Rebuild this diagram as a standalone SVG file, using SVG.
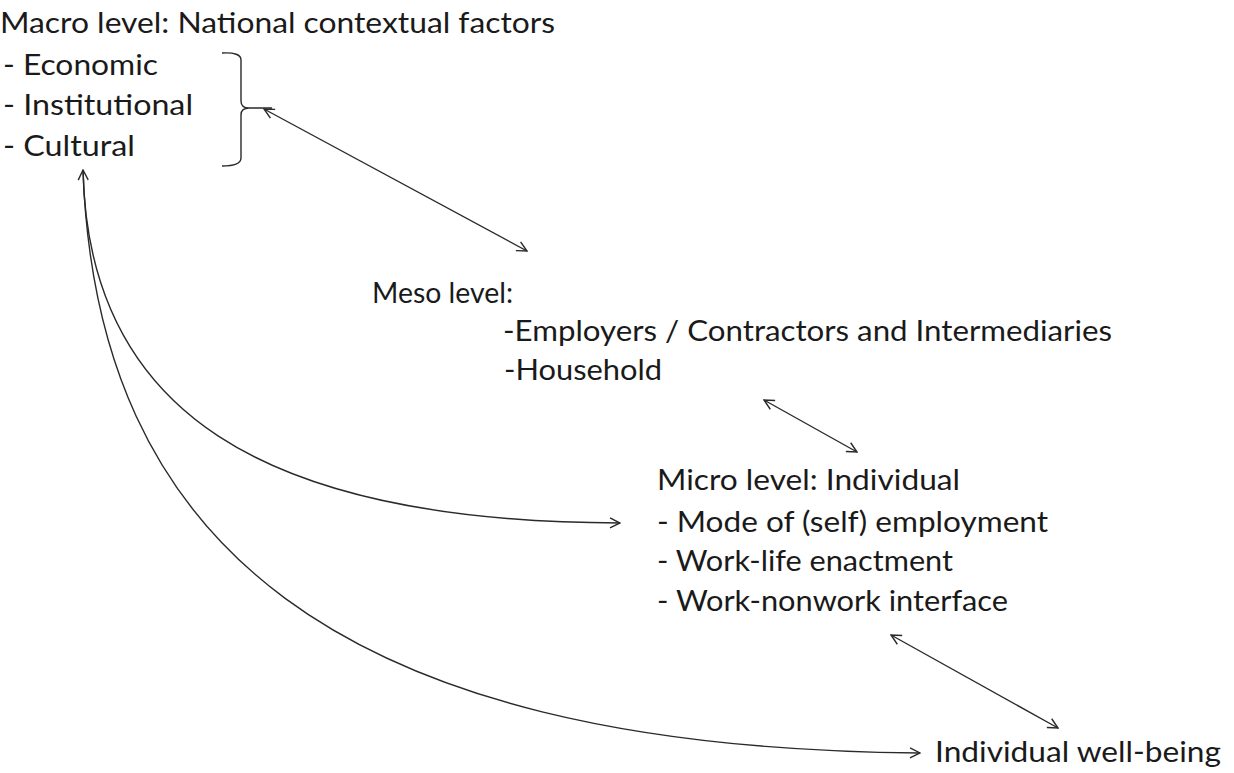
<svg xmlns="http://www.w3.org/2000/svg" width="1234" height="773" viewBox="0 0 1234 773">
<style>
text{font-family:"Lato","Open Sans",sans-serif;font-size:28px;fill:#1a1a1a}
.c{fill:none;stroke:#2a2a2a;stroke-width:1.4}
</style>
<defs>
<marker id="ah" viewBox="0 0 12 12" refX="11" refY="6" markerWidth="12" markerHeight="12" markerUnits="userSpaceOnUse" orient="auto-start-reverse">
<path d="M1,1 L11,6 L1,11" fill="none" stroke="#2a2a2a" stroke-width="1.4"/>
</marker>
</defs>
<rect width="1234" height="773" fill="#fff"/>
<g id="macro">
<text x="0" y="33" textLength="555" lengthAdjust="spacingAndGlyphs">Macro level: National contextual factors</text>
<text x="3" y="75" textLength="155" lengthAdjust="spacingAndGlyphs">- Economic</text>
<text x="3" y="115" textLength="190" lengthAdjust="spacingAndGlyphs">- Institutional</text>
<text x="3" y="156" textLength="132" lengthAdjust="spacingAndGlyphs">- Cultural</text>
<path class="c" d="M222,53 Q241,52 241,60 L241,101 Q241,108 249,108 L272,108 M249,108 Q241,108 241,115 L241,158 Q241,166 222,166"/>
</g>
<g id="meso">
<text x="372" y="303" textLength="141" lengthAdjust="spacingAndGlyphs">Meso level:</text>
<text x="503" y="341" textLength="609" lengthAdjust="spacingAndGlyphs">-Employers / Contractors and Intermediaries</text>
<text x="504" y="380" textLength="158" lengthAdjust="spacingAndGlyphs">-Household</text>
</g>
<g id="micro">
<text x="657" y="490" textLength="303" lengthAdjust="spacingAndGlyphs">Micro level: Individual</text>
<text x="657" y="532" textLength="391" lengthAdjust="spacingAndGlyphs">- Mode of (self) employment</text>
<text x="657" y="571" textLength="296" lengthAdjust="spacingAndGlyphs">- Work-life enactment</text>
<text x="657" y="611" textLength="351" lengthAdjust="spacingAndGlyphs">- Work-nonwork interface</text>
</g>
<g id="wellbeing">
<text x="935" y="762" textLength="286" lengthAdjust="spacingAndGlyphs">Individual well-being</text>
</g>
<g id="connectors">
<line class="c" x1="264" y1="109" x2="527" y2="251" marker-start="url(#ah)" marker-end="url(#ah)"/>
<line class="c" x1="764" y1="400" x2="857" y2="452" marker-start="url(#ah)" marker-end="url(#ah)"/>
<line class="c" x1="891" y1="635" x2="1058" y2="728" marker-start="url(#ah)" marker-end="url(#ah)"/>
<path class="c" d="M83,170 C88,410 260,522 620,523" marker-start="url(#ah)" marker-end="url(#ah)"/>
<path class="c" d="M83,170 C96,540 330,748 920,753" marker-end="url(#ah)"/>
</g>
</svg>
